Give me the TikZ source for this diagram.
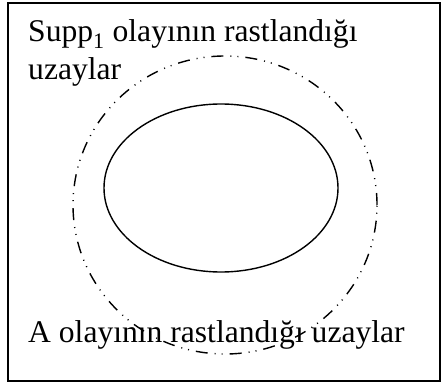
\documentclass[tikz,border=0pt]{standalone}
\usepackage{fontspec}
\setmainfont{Liberation Serif}
\usetikzlibrary{shapes.geometric}
\begin{document}
\begin{tikzpicture}[x=1pt,y=-1pt,
  frame/.style={draw=black,line width=2pt},
  outerset/.style={draw=black,line width=1.4pt,ellipse,inner sep=0pt,minimum width=304pt,minimum height=298pt,
    dash pattern=on 12pt off 7pt on 1pt off 6pt on 1pt off 7pt},
  innerset/.style={draw=black,line width=1.4pt,ellipse,inner sep=0pt,minimum width=234pt,minimum height=168pt},
  label/.style={font=\fontsize{31.6}{38}\selectfont,inner sep=0pt,anchor=base west,align=left}]
\useasboundingbox (0,0) rectangle (446,385);
\node[frame,minimum width=432pt,minimum height=377pt,inner sep=0pt,anchor=north west] (box) at (7,2.5) {};
\node[outerset] (supp) at (225,205) {};
\node[innerset] (aset) at (221,188) {};
\node[label] (t1) at (28,80) {Supp\textsubscript{1} olayının rastlandığı\\uzaylar};
\node[label] (t2) at (28,342) {A olayının rastlandığı uzaylar};
\end{tikzpicture}
\end{document}
